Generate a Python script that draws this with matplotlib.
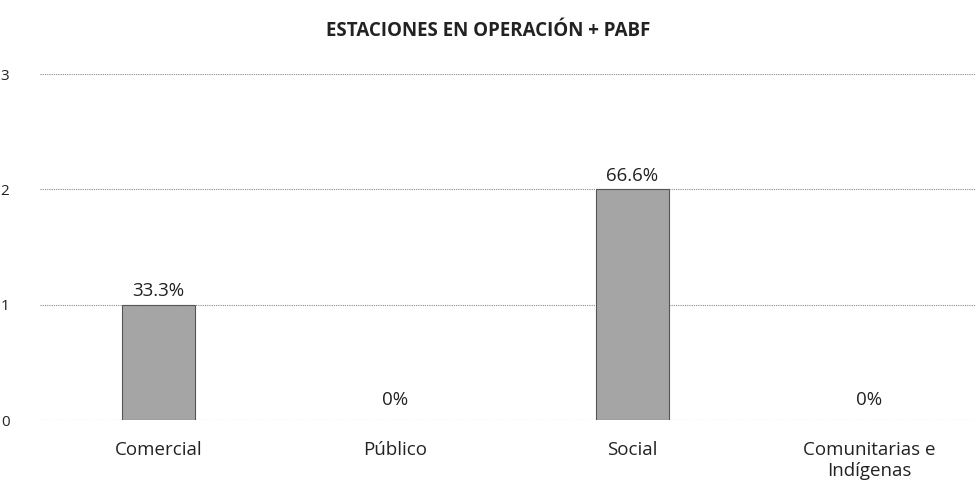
import matplotlib
matplotlib.use('Agg')
import matplotlib.pyplot as plt

# Data
categories = ["Comercial", "Público", "Social", "Comunitarias e\nIndígenas"]
values = [1, 0, 2, 0]
pct_labels = ["33.3%", "0%", "66.6%", "0%"]
yticks = [0, 1, 2, 3]

plt.rcParams['font.family'] = ['Open Sans', 'DejaVu Sans']

fig = plt.figure(figsize=(9.76, 4.83), dpi=100)
ax = fig.add_axes([40 / 976, 63 / 483, 948 / 976, 346 / 483])

x = range(len(categories))
bars = ax.bar(x, values, width=0.31, color='#a5a5a5', edgecolor='#555555', linewidth=0.8, zorder=3)

# label above each bar (zero bars get a bit more room, like the original)
for rect, lab in zip(bars, pct_labels):
    h = rect.get_height()
    if h == 0:
        rect.set_linewidth(0)
    ax.annotate(lab, xy=(rect.get_x() + rect.get_width() / 2, h),
                xytext=(0, 8 if h == 0 else 3), textcoords="offset points", ha='center', va='bottom',
                fontsize=13.5, color='#222222')

ax.set_xlim(-0.5, 3.5)
ax.set_ylim(0, 3)
ax.set_yticks(yticks)
ax.set_xticks(list(x))
ax.set_xticklabels(categories, fontsize=13.5, color='#222222', linespacing=1.25)
ax.tick_params(axis='y', labelsize=11, colors='#222222', length=0, pad=22)
ax.tick_params(axis='x', length=0, pad=15)
ax.grid(axis='y', color='#8a8a8a', linestyle=(0, (1, 1)), linewidth=0.8, zorder=0)
for s in ax.spines.values():
    s.set_visible(False)

fig.text(0.5, 1 - 31 / 483, "ESTACIONES EN OPERACIÓN + PABF", ha='center', va='center',
         fontsize=13.5, fontweight='bold', color='#222222')

plt.savefig("out.png", dpi=100)
plt.close()
